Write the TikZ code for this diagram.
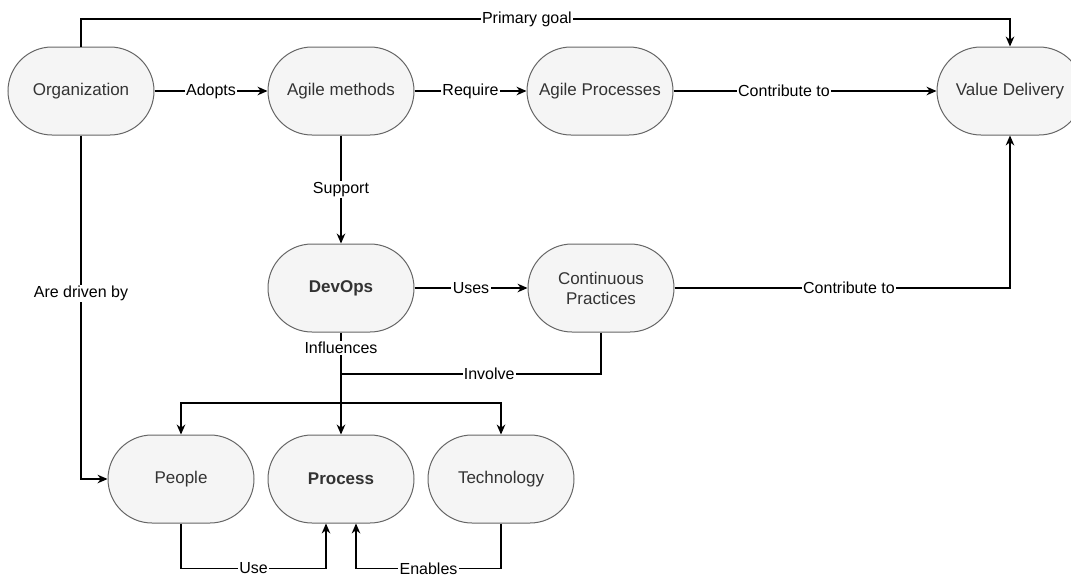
\documentclass[tikz,border=0pt]{standalone}
\usepackage{fontspec}
\setmainfont{Liberation Sans}
\usetikzlibrary{arrows.meta,calc}
\definecolor{boxfill}{HTML}{F5F5F5}
\definecolor{boxline}{HTML}{666666}
\definecolor{boxtext}{HTML}{333333}
\tikzset{
    box/.style={draw=boxline, fill=boxfill, line width=0.75pt, rounded corners=33pt,
        minimum width=109.5pt, minimum height=66pt, text=boxtext, align=center,
        font=\fontsize{12.75}{15}\selectfont},
    flow/.style={line width=0.9pt, -{Stealth[length=7.5pt,width=6.5pt]}},
    lbl/.style={fill=white, inner sep=1pt, text=black, font=\fontsize{12}{14}\selectfont}
}
\begin{document}
\begin{tikzpicture}[x=0.75pt, y=-0.75pt]
                    \useasboundingbox (0,0) rectangle (1071,579);
                    \node[box] (org) at (81,91) {Organization};
                    \node[box] (am) at (341,91) {Agile methods};
                    \node[box] (ap) at (600,91) {Agile Processes};
                    \node[box] (vd) at (1010,91) {Value Delivery};
                    \node[box] (dev) at (341,288) {\bfseries DevOps};
                    \node[box] (cp) at (601,288) {Continuous\\Practices};
                    \node[box] (ppl) at (181,479) {People};
                    \node[box] (proc) at (341,479) {\bfseries Process};
                    \node[box] (tech) at (501,479) {Technology};
                    \coordinate (tl) at (81,19);
                    \coordinate (tr) at (1010,19);
                    \coordinate (inv) at (341,374);
                    \coordinate (split) at (341,403);
                    \draw[flow] (org.north) -- (tl) -- node[lbl, pos=0.48] {Primary goal} (tr) -- (vd.north);
                    \draw[flow] (org.east) -- node[lbl] {Adopts} (am.west);
                    \draw[flow] (am.east) -- node[lbl] {Require} (ap.west);
                    \draw[flow] (ap.east) -- node[lbl, pos=0.42] {Contribute to} (vd.west);
                    \draw[flow] (am.south) -- node[lbl] {Support} (dev.north);
                    \draw[flow] (dev.east) -- node[lbl] {Uses} (cp.west);
                    \draw[flow] (cp.east) -| node[lbl, pos=0.26] {Contribute to} (vd.south);
                    \draw[flow] (org.south) |- node[lbl, pos=0.23] {Are driven by} (ppl.west);
                    \draw[flow] (dev.south) -- node[lbl, pos=0.15] {Influences} (proc.north);
                    \draw[flow] (split) -| (ppl.north);
                    \draw[flow] (split) -| (tech.north);
                    \draw[line width=0.9pt] (cp.south) |- node[lbl, pos=0.715] {Involve} (inv);
                    \draw[flow] (ppl.south) -- ++(0,45) -| node[lbl, pos=0.25] {Use} ($(proc.south)+(-15,0)$);
                    \draw[flow] (tech.south) -- ++(0,45) -| node[lbl, pos=0.25] {Enables} ($(proc.south)+(15,0)$);
                    % \draw[help lines] (0,0) grid (1071,579);
                \end{tikzpicture}
\end{document}
